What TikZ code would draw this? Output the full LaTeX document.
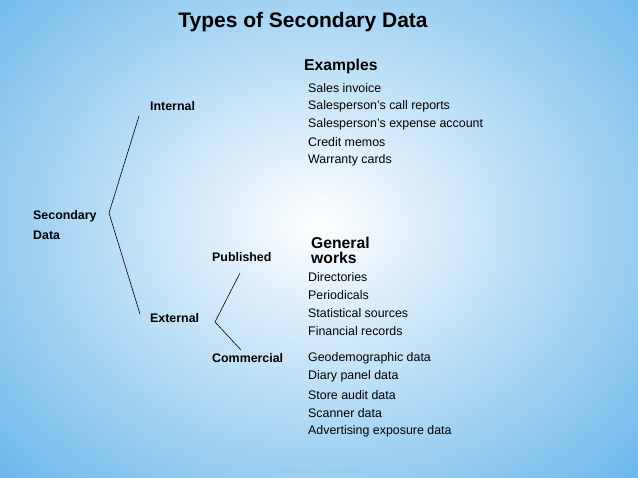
\documentclass[tikz,border=0pt]{standalone}
\usepackage{fontspec}
\setmainfont{Liberation Sans}
\definecolor{bgblue}{RGB}{110,185,235}
\begin{document}
\begin{tikzpicture}[x=1pt,y=-1pt,
  lbl/.style={anchor=west,inner sep=0pt,font=\fontsize{12.4}{14}\selectfont},
  blbl/.style={anchor=west,inner sep=0pt,font=\fontsize{12.4}{14}\selectfont\bfseries},
  hd/.style={anchor=west,inner sep=0pt,font=\fontsize{15.7}{15}\selectfont\bfseries},
  br/.style={draw=black,line width=0.6pt}]
\useasboundingbox (0,0) rectangle (638,478);
\shade[inner color=white,outer color=bgblue] (-120,-130) rectangle (758,580);
\node[inner sep=0pt,font=\fontsize{21}{22}\selectfont\bfseries] (title) at (303,22) {Types of Secondary Data};
\node[hd] (ex) at (304,66) {Examples};
\foreach \t [count=\i] in {Sales invoice,Salesperson’s call reports,Salesperson’s expense account,Credit memos,Warranty cards}
  \node[lbl] (i\i) at (308,70+18*\i) {\t};
\node[blbl] (int) at (150,106) {Internal};
\node[blbl] (sec) at (33,216) {Secondary};
\node[blbl] (dat) at (33,235) {Data};
\node[blbl] (ext) at (150,318) {External};
\node[blbl] (pub) at (212,257) {Published};
\node[blbl] (com) at (212,358) {Commercial};
\node[hd,align=left] (gw) at (311,250) {General\\works};
\foreach \t [count=\i] in {Directories,Periodicals,Statistical sources,Financial records}
  \node[lbl] (p\i) at (308,259+18*\i) {\t};
\foreach \t [count=\i] in {Geodemographic data,Diary panel data,Store audit data,Scanner data,Advertising exposure data}
  \node[lbl] (c\i) at (308,340+18.2*\i) {\t};
\coordinate (b1) at (109,213);
\coordinate (b1u) at (139,116);
\coordinate (b1d) at (140,314);
\draw[br] (b1u) -- (b1) -- (b1d);
\coordinate (b2) at (215,322);
\coordinate (b2u) at (240,273);
\coordinate (b2d) at (241,350);
\draw[br] (b2u) -- (b2) -- (b2d);
\end{tikzpicture}
\end{document}
